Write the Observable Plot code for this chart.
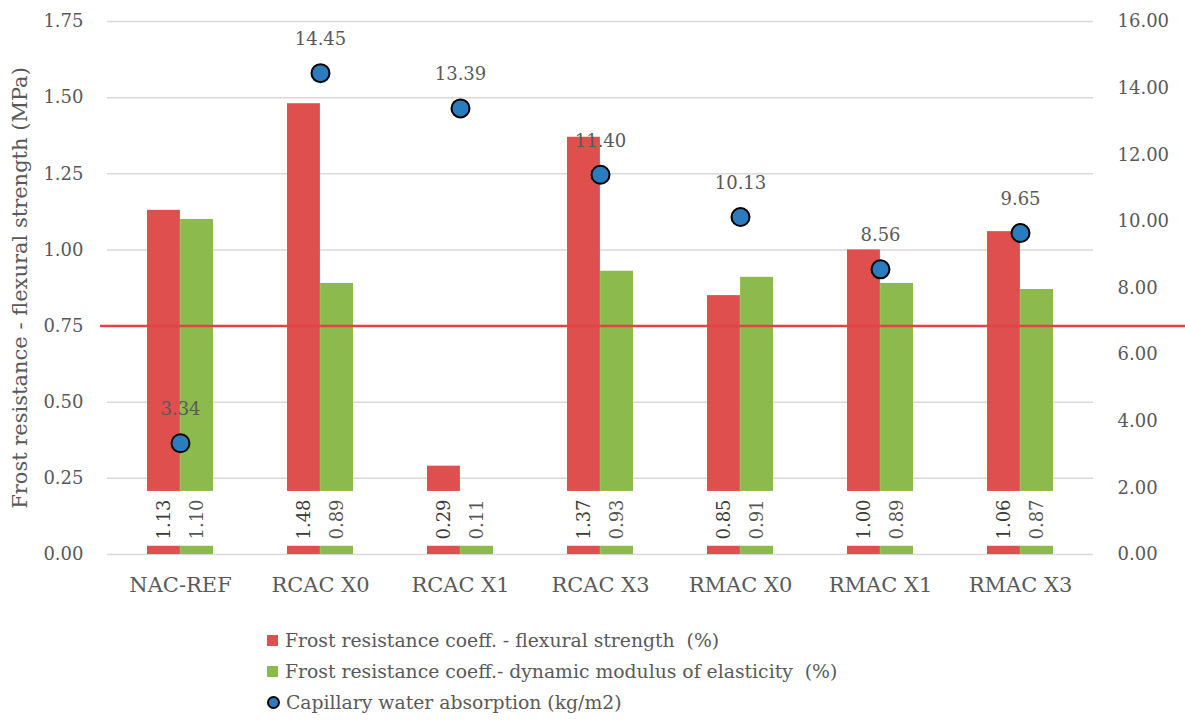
<!DOCTYPE html>
<html>
<head>
<meta charset="utf-8">
<script src="https://cdn.jsdelivr.net/npm/d3@7"></script>
<script src="https://cdn.jsdelivr.net/npm/@observablehq/plot@0.6"></script>
<style>
  body { margin: 0; background: #fff; }
  #legend { padding: 15px 0 0 267px; font-family: "DejaVu Serif", "Liberation Serif", serif; font-size: 18.8px; color: #595959; }
  .item { height: 31px; line-height: 31px; display: flex; align-items: center; }
  .sw { width: 11px; height: 11px; margin-right: 7px; flex: none; }
  .dotsw { width: 9px; height: 9px; border-radius: 50%; border: 2px solid #000; margin-right: 6px; flex: none; box-sizing: content-box; }
  svg text { font-family: "DejaVu Serif", "Liberation Serif", serif; }
</style>
</head>
<body>
<div id="chart"></div>
<div id="legend"></div>
<script>
const categories = ["NAC-REF", "RCAC X0", "RCAC X1", "RCAC X3", "RMAC X0", "RMAC X1", "RMAC X3"];
const flexural = [1.13, 1.48, 0.29, 1.37, 0.85, 1.00, 1.06];
const dynamic = [1.10, 0.89, 0.11, 0.93, 0.91, 0.89, 0.87];
const absorption = [3.34, 14.45, 13.39, 11.40, 10.13, 8.56, 9.65];
const leftTicks = [0, 0.25, 0.5, 0.75, 1.0, 1.25, 1.5, 1.75];
const rightTicks = [0, 2, 4, 6, 8, 10, 12, 14, 16];
const threshold = 0.75;
const seriesNames = [
  "Frost resistance coeff. - flexural strength  (%)",
  "Frost resistance coeff.- dynamic modulus of elasticity  (%)",
  "Capillary water absorption (kg/m2)"
];

const RED = "#DE4F4D", GREEN = "#8CBA4C", BLUE = "#2B7BBF";
const LMAX = 1.75, RMAX = 16;
const toLeft = v => v * LMAX / RMAX;
const FONT = "'DejaVu Serif', 'Liberation Serif', serif";
const FS = 18;

const rows = categories.map((c, i) => ({cat: c, flex: flexural[i], dyn: dynamic[i], abs: absorption[i]}));

const W = 1185, H = 610;
const plot = Plot.plot({
  width: W,
  height: H,
  marginTop: 21,
  marginBottom: 56,
  marginLeft: 107,
  marginRight: 92,
  style: {fontFamily: FONT, fontSize: FS + "px", color: "#595959", background: "#fff"},
  x: {domain: categories, paddingInner: 0.53, paddingOuter: 0.265, label: null},
  y: {domain: [0, LMAX], label: null},
  marks: [
    Plot.ruleY(leftTicks, {stroke: "#d9d9d9", strokeWidth: 1.5}),
    Plot.barY(rows, {x: "cat", y: "flex", fill: RED, insetRight: 33.1, insetLeft: 0}),
    Plot.barY(rows, {x: "cat", y: "dyn", fill: GREEN, insetLeft: 33.1}),
    Plot.rect(rows, {x: "cat", y1: 0.027, y2: 0.207, fill: "#fff"}),
    Plot.text(rows, {x: "cat", y: 0.115, text: d => d.flex.toFixed(2), rotate: -90, dx: -16.5, fill: "#3a3a3a", fontSize: FS}),
    Plot.text(rows, {x: "cat", y: 0.115, text: d => d.dyn.toFixed(2), rotate: -90, dx: 16.5, fill: "#555", fontSize: FS}),
    Plot.ruleY([threshold], {stroke: "#E04444", strokeWidth: 2.5, insetLeft: -7, insetRight: -92}),
    Plot.dot(rows, {x: "cat", y: d => toLeft(d.abs), r: 9, fill: BLUE, stroke: "#000", strokeWidth: 2}),
    Plot.text(rows, {x: "cat", y: d => toLeft(d.abs), text: d => d.abs.toFixed(2), dy: -34, fill: "#595959", fontSize: FS}),
    Plot.axisY(leftTicks, {anchor: "left", tickSize: 0, tickPadding: 24, tickFormat: d => d.toFixed(2), fontSize: FS, fill: "#595959"}),
    Plot.axisY(rightTicks.map(toLeft), {anchor: "right", tickSize: 0, tickPadding: 24, textAnchor: "start", tickFormat: d => (d * RMAX / LMAX).toFixed(2), fontSize: FS, fill: "#595959"}),
    Plot.axisX({tickSize: 0, tickPadding: 23, fontSize: 21, fill: "#595959"}),
    Plot.text(["Frost resistance - flexural strength (MPa)"], {frameAnchor: "left", textAnchor: "middle", dx: -87, rotate: -90, fontSize: 21, fill: "#595959", text: d => d})
  ]
});
document.getElementById("chart").appendChild(plot);

const legend = document.getElementById("legend");
const swatches = [
  `<span class="sw" style="background:${RED}"></span>`,
  `<span class="sw" style="background:${GREEN}"></span>`,
  `<span class="dotsw" style="background:${BLUE}"></span>`
];
seriesNames.forEach((name, i) => {
  const div = document.createElement("div");
  div.className = "item";
  div.innerHTML = swatches[i] + `<span style="white-space:pre">${name}</span>`;
  legend.appendChild(div);
});
</script>
</body>
</html>
